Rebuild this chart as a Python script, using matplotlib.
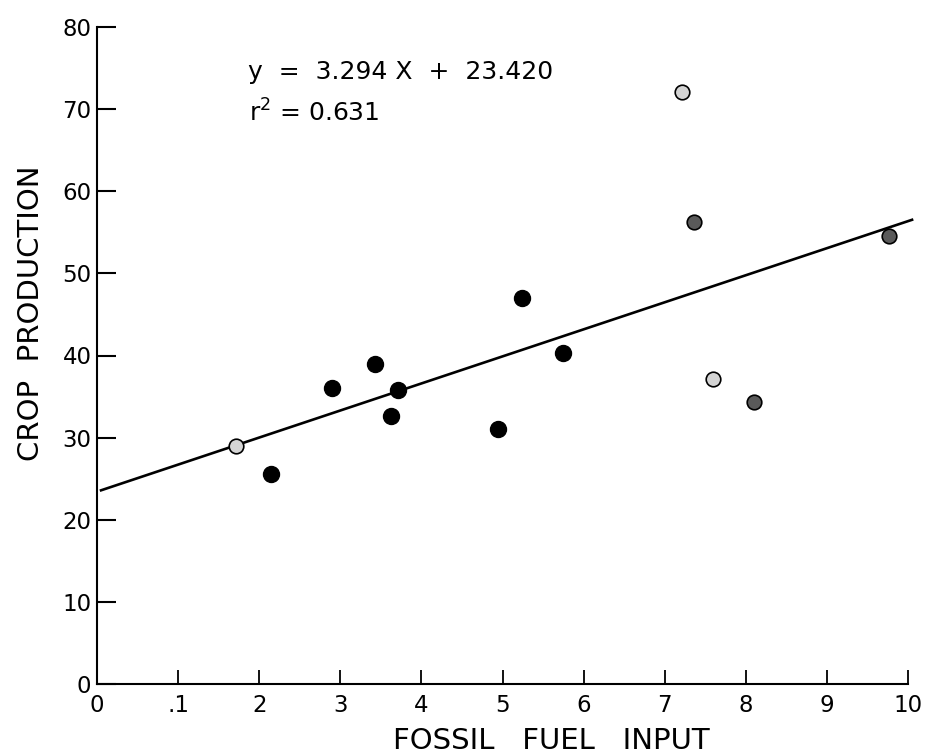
import matplotlib
matplotlib.use("Agg")
import matplotlib.pyplot as plt
import numpy as np

# Data
solid_x = [2.14, 2.90, 3.43, 3.62, 3.71, 4.94, 5.24, 5.74]
solid_y = [25.6, 36.0, 39.0, 32.6, 35.8, 31.0, 47.0, 40.3]
light_x = [1.72, 7.21, 7.59]
light_y = [29.0, 72.1, 37.1]
dark_x = [7.36, 8.10, 9.77]
dark_y = [56.2, 34.3, 54.5]

slope = 3.294
intercept = 23.420
fit_range = [0.05, 10.05]

x_ticks = [0, 1, 2, 3, 4, 5, 6, 7, 8, 9, 10]
x_tick_labels = ["0", ".1", "2", "3", "4", "5", "6", "7", "8", "9", "10"]
y_ticks = [0, 10, 20, 30, 40, 50, 60, 70, 80]

plt.rcParams['font.family'] = ['DejaVu Sans']

fig = plt.figure(figsize=(9.29, 7.55), dpi=100)
ax = fig.add_axes([97/929, 71/755, 811/929, 657/755])
ax.set_xlim(0, 10)
ax.set_ylim(0, 80)

fx = np.array(fit_range)
ax.plot(fx, slope * fx + intercept, color='black', lw=1.9, zorder=2, clip_on=False)

ax.plot(solid_x, solid_y, 'o', color='black', ms=11.5, zorder=3)
ax.plot(light_x, light_y, 'o', mfc='#d4d4d4', mec='black', mew=1.2, ms=10.5, zorder=3)
ax.plot(dark_x, dark_y, 'o', mfc='#5a5a5a', mec='black', mew=1.2, ms=10.5, zorder=3)

for s in ['top', 'right']:
    ax.spines[s].set_visible(False)
for s in ['left', 'bottom']:
    ax.spines[s].set_linewidth(1.5)

ax.set_xticks(x_ticks)
ax.set_xticklabels(x_tick_labels)
ax.set_yticks(y_ticks)
ax.tick_params(axis='y', direction='in', length=14, width=1.5, pad=4, labelsize=16.5)
ax.tick_params(axis='x', direction='in', length=10, width=1.3, pad=7, labelsize=16.5)

ax.set_xlabel("FOSSIL   FUEL   INPUT", fontsize=21)
ax.xaxis.set_label_coords(0.56, -0.066)
ax.set_ylabel("CROP  PRODUCTION", fontsize=21)
ax.yaxis.set_label_coords(-0.0645, 0.565)

ax.text(0.186, 0.931, "y  =  3.294 X  +  23.420", transform=ax.transAxes,
        fontsize=18, va='center', ha='left')
ax.text(0.188, 0.869, "r$^2$ = 0.631", transform=ax.transAxes,
        fontsize=18, va='center', ha='left')

fig.savefig("out.png", dpi=100)
